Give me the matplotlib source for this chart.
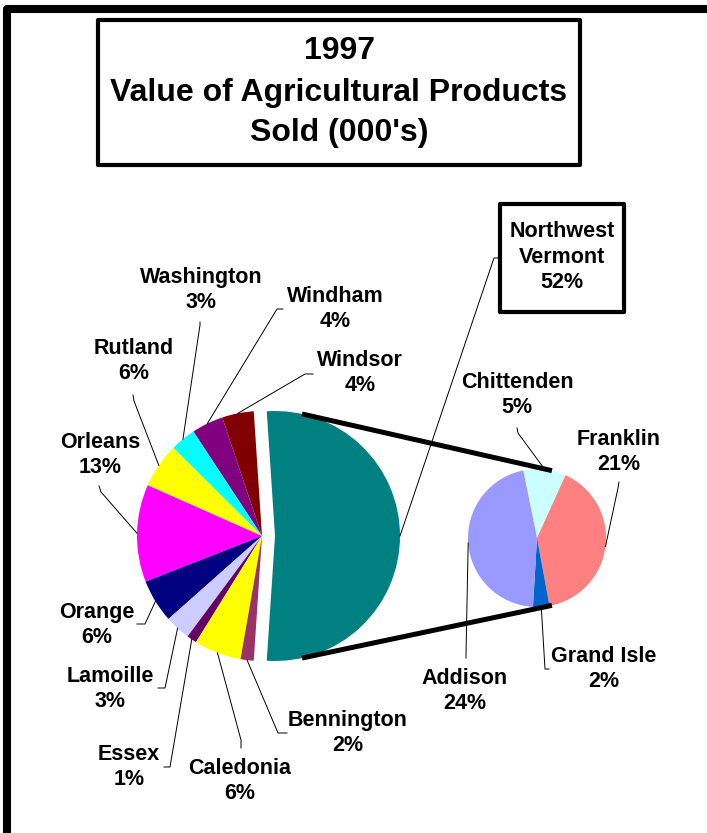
import numpy as np
import matplotlib
matplotlib.use("Agg")
import matplotlib.pyplot as plt
from matplotlib.patches import Rectangle

# ---------------- data ----------------
title_lines = ["1997", "Value of Agricultural Products", "Sold (000's)"]

main_labels = ["Windsor", "Windham", "Washington", "Rutland", "Orleans",
               "Orange", "Lamoille", "Essex", "Caledonia", "Bennington"]
main_values = [4.1, 4.1, 3.3, 5.8, 12.6, 5.6, 3.3, 1.3, 6.1, 1.7]
main_colors = ["#800000", "#800080", "#00FFFF", "#FFFF00", "#FF00FF",
               "#000080", "#CCCCFF", "#660066", "#FFFF00", "#993366"]

group_label = "Northwest\nVermont"
group_color = "#008080"

sub_labels = ["Chittenden", "Franklin", "Grand Isle", "Addison"]
sub_values = [5.2, 21.0, 2.0, 23.9]
sub_colors = ["#CCFFFF", "#FF8080", "#0066CC", "#9999FF"]

# ---------------- layout ----------------
W, H = 707, 833


def Y(y):
    return H - y


MAIN_C = (262, Y(536))
MAIN_R = 125
EXPLODE = 13
SUB_C = (537, Y(538))
SUB_R = 69
SUB_START = 101.5
CONNECT_ANG = 77.5
FONT = "Liberation Sans"
LFS = 15.5
LSP = 1.3

# label centre and leader start points (px, y down)
label_layout = {
    "Windsor": ((360, 373), [(313, 374), (305, 374)]),
    "Windham": ((335, 309), [(283, 309), (277, 309)]),
    "Washington": ((201, 290), [(200, 322), (200, 325)]),
    "Rutland": ((134, 361), [(133, 395), (134, 401)]),
    "Orleans": ((100, 455), [(99, 486), (101, 492)]),
    "Orange": ((97, 625), [(137, 624), (145, 624)]),
    "Lamoille": ((110, 689), [(158, 688), (165, 688)]),
    "Essex": ((129, 767), [(164, 767), (170, 767)]),
    "Caledonia": ((240, 781), [(241, 748), (241, 740)]),
    "Bennington": ((348, 733), [(287, 733), (278, 733)]),
    "Chittenden": ((517, 395), [(517, 428), (518, 433)]),
    "Franklin": ((619, 452), [(619, 482), (618, 488)]),
    "Grand Isle": ((604, 669), [(549, 669), (545, 669)]),
    "Addison": ((465, 691), [(466, 658), (466, 655)]),
}
group_layout = ((562, 257), [(500, 258), (494, 258)])
group_box = (500, 204, 624, 312)
title_box = (98, 20, 580, 165)
title_y = [51, 93, 133]

total = sum(main_values) + sum(sub_values)
group_value = sum(sub_values)


def pct(v):
    return f"{round(v / total * 100):d}%"


fig = plt.figure(figsize=(W / 100, H / 100), dpi=100)
ax = fig.add_axes([0, 0, 1, 1])

# main pie
vals = [group_value] + main_values
cols = [group_color] + main_colors
start = -(group_value / total) * 360 / 2
wedges_main, _ = ax.pie(vals, colors=cols, startangle=start, counterclock=True,
                        radius=MAIN_R, center=MAIN_C,
                        explode=[EXPLODE] + [0] * len(main_values),
                        frame=True, wedgeprops=dict(linewidth=0))

# secondary pie
wedges_sub, _ = ax.pie(sub_values, colors=sub_colors, startangle=SUB_START,
                       counterclock=False, radius=SUB_R, center=SUB_C,
                       frame=True, wedgeprops=dict(linewidth=0))

ax.set_xlim(0, W)
ax.set_ylim(0, H)
ax.set_aspect("auto")
ax.axis("off")


def mid_point(w):
    a = np.deg2rad((w.theta1 + w.theta2) / 2)
    return (w.center[0] + w.r * np.cos(a), w.center[1] + w.r * np.sin(a))


def draw_label(text, layout, wedge):
    (tx, ty), pts = layout
    ax.text(tx, Y(ty), text, ha="center", va="center", fontsize=LFS,
            fontweight="bold", family=FONT, linespacing=LSP, zorder=5)
    ex, ey = mid_point(wedge)
    xs = [p[0] for p in pts] + [ex]
    ys = [Y(p[1]) for p in pts] + [ey]
    ax.plot(xs, ys, color="black", lw=0.7, zorder=4)


for name, v, w in zip(main_labels, main_values, wedges_main[1:]):
    draw_label(f"{name}\n{pct(v)}", label_layout[name], w)
for name, v, w in zip(sub_labels, sub_values, wedges_sub):
    draw_label(f"{name}\n{pct(v)}", label_layout[name], w)

# group label in a box
gw = wedges_main[0]
(gx, gy), gpts = group_layout
ax.text(gx, Y(gy), f"{group_label}\n{pct(group_value)}", ha="center", va="center",
        fontsize=LFS, fontweight="bold", family=FONT, linespacing=LSP, zorder=5)
x0, y0, x1, y1 = group_box
ax.add_patch(Rectangle((x0, Y(y1)), x1 - x0, y1 - y0, fill=False, lw=3,
                       ec="black", joinstyle="round", zorder=5))
ex, ey = mid_point(gw)
ax.plot([p[0] for p in gpts] + [ex], [Y(p[1]) for p in gpts] + [ey],
        color="black", lw=0.7, zorder=4)

# connector lines
for s in (1, -1):
    a = np.deg2rad(s * CONNECT_ANG)
    p1 = (gw.center[0] + gw.r * np.cos(a), gw.center[1] + gw.r * np.sin(a))
    p2 = (SUB_C[0] + SUB_R * np.cos(a), SUB_C[1] + SUB_R * np.sin(a))
    ax.plot([p1[0], p2[0]], [p1[1], p2[1]], color="black", lw=3.6,
            solid_capstyle="butt", zorder=3)

# title box
x0, y0, x1, y1 = title_box
ax.add_patch(Rectangle((x0, Y(y1)), x1 - x0, y1 - y0, fill=False, lw=3,
                       ec="black", joinstyle="round", zorder=5))
for line, yy in zip(title_lines, title_y):
    ax.text((x0 + x1) / 2, Y(yy), line, ha="center", va="center", fontsize=23,
            fontweight="bold", family=FONT, zorder=6)

# outer frame (top and left)
ax.plot([7, 7, W + 10], [-10, Y(9), Y(9)], color="black", lw=5.8,
        solid_joinstyle="round", zorder=6)

fig.savefig("out.png", dpi=100)
